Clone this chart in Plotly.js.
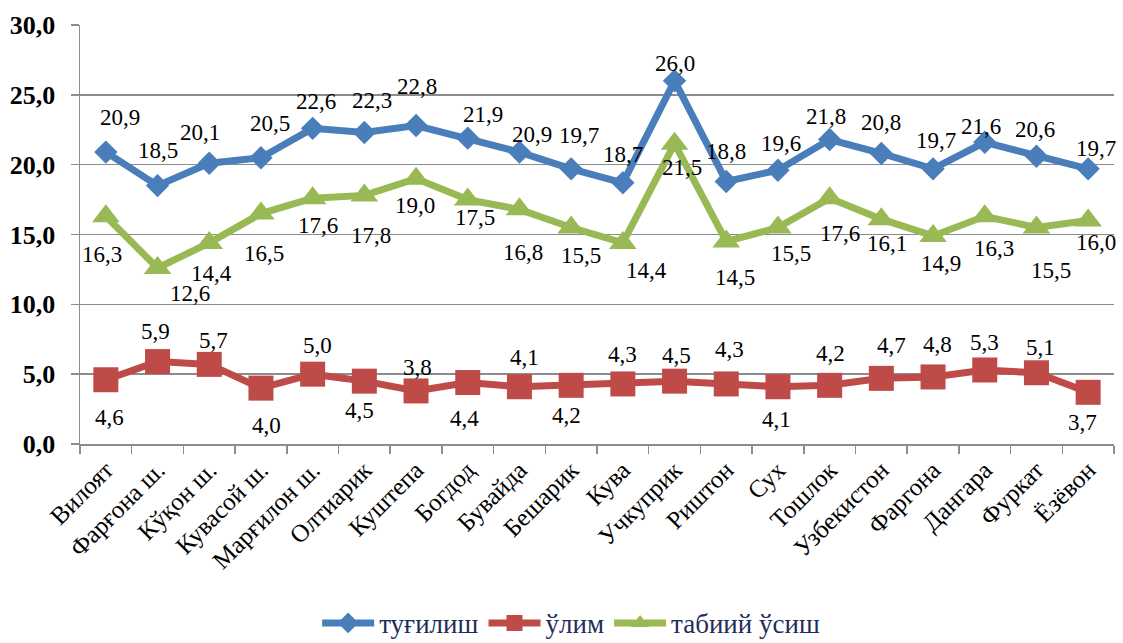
<!DOCTYPE html>
<html>
<head>
<meta charset="utf-8">
<script src="https://cdn.plot.ly/plotly-3.0.1.min.js"></script>
<style>
  html, body { margin: 0; padding: 0; background: #ffffff; }
  #chart { width: 1123px; height: 643px; }
</style>
</head>
<body>
<div id="chart"></div>
<script>
// ---- data ----
const categories = ["Вилоят", "Фарғона ш.", "Кўқон ш.", "Кувасой ш.", "Марғилон ш.", "Олтиарик", "Куштепа", "Богдод", "Бувайда", "Бешарик", "Кува", "Учкуприк", "Риштон", "Сух", "Тошлок", "Узбекистон", "Фаргона", "Дангара", "Фуркат", "Ёзёвон"];
const birth = [20.9, 18.5, 20.1, 20.5, 22.6, 22.3, 22.8, 21.9, 20.9, 19.7, 18.7, 26.0, 18.8, 19.6, 21.8, 20.8, 19.7, 21.6, 20.6, 19.7];
const death = [4.6, 5.9, 5.7, 4.0, 5.0, 4.5, 3.8, 4.4, 4.1, 4.2, 4.3, 4.5, 4.3, 4.1, 4.2, 4.7, 4.8, 5.3, 5.1, 3.7];
const growth = [16.3, 12.6, 14.4, 16.5, 17.6, 17.8, 19.0, 17.5, 16.8, 15.5, 14.4, 21.5, 14.5, 15.5, 17.6, 16.1, 14.9, 16.3, 15.5, 16.0];
const seriesNames = ["туғилиш", "ўлим", "табиий ўсиш"];
const yTicks = [0, 5, 10, 15, 20, 25, 30];

// ---- label offsets (screen px, [dx, dy], dy down) ----
const birthLabelShift = [[14,-35],[0,-35],[-9,-31],[9,-34],[3,-27],[8,-32],[1,-39],[15,-24],[13,-18],[8,-33],[0,-28],[0,-17],[0,-30],[3,-27],[-4,-23],[0,-31],[3,-28],[-4,-16],[-1,-27],[8,-20]];
const deathLabelShift = [[4,38],[-2,-30],[4,-24],[6,37],[5,-29],[-5,29],[1,-23],[-3,36],[5,-29],[-5,30],[0,-29],[2,-26],[3,-34],[-1,33],[1,-32],[10,-33],[4,-32],[0,-27],[4,-25],[-6,30]];
const growthLabelShift = [[-4,38],[32,25],[2,31],[3,40],[5,27],[7,40],[-1,27],[7,18],[4,43],[10,28],[24,28],[7,24],[9,36],[13,26],[10,35],[6,24],[8,28],[9,32],[15,43],[8,22]];

const colors = ["#4A7EBB", "#BE4B48", "#98B954"];
const FONT = "Times New Roman, Liberation Serif, DejaVu Serif";

function fmt(v) { return v.toFixed(1).replace(".", ","); }

const traces = [
  { name: seriesNames[0], x: categories, y: birth, type: "scatter", mode: "lines+markers",
    line: { color: colors[0], width: 7 },
    marker: { symbol: "diamond", size: 18, color: colors[0] }, hoverinfo: "skip" },
  { name: seriesNames[1], x: categories, y: death, type: "scatter", mode: "lines+markers",
    line: { color: colors[1], width: 7 },
    marker: { symbol: "square", size: 25, color: colors[1] }, hoverinfo: "skip" },
  { name: seriesNames[2], x: categories, y: growth, type: "scatter", mode: "lines+markers",
    line: { color: colors[2], width: 7 },
    marker: { symbol: "triangle-up", size: 24, color: colors[2] }, hoverinfo: "skip" }
];

const annotations = [];
function addLabels(values, shifts) {
  values.forEach(function (v, i) {
    annotations.push({
      x: categories[i], y: v, xref: "x", yref: "y",
      text: fmt(v), showarrow: false,
      xshift: shifts[i][0], yshift: -shifts[i][1],
      font: { family: FONT, size: 23, color: "#000000" }
    });
  });
}
addLabels(birth, birthLabelShift);
addLabels(death, deathLabelShift);
addLabels(growth, growthLabelShift);

const layout = {
  width: 1123, height: 643,
  margin: { l: 80, r: 9, t: 25, b: 199, autoexpand: false },
  paper_bgcolor: "#ffffff", plot_bgcolor: "#ffffff",
  separators: ", ",
  font: { family: FONT },
  showlegend: true,
  legend: {
    orientation: "h", x: 0.475, xanchor: "center", y: -0.428, yanchor: "middle",
    font: { family: FONT, size: 27, color: "#1F2D5A" },
    itemwidth: 52, bgcolor: "rgba(0,0,0,0)"
  },
  xaxis: {
    type: "category", range: [-0.5, categories.length - 0.5],
    tickson: "boundaries", ticks: "outside", ticklen: 8, tickcolor: "#8C8C8C", tickwidth: 1.5,
    showline: true, linecolor: "#8C8C8C", linewidth: 1.5,
    showgrid: false, tickangle: -45, automargin: false,
    tickfont: { family: FONT, size: 25, color: "#000000" },
    fixedrange: true
  },
  yaxis: {
    range: [0, 30], tickvals: yTicks, tickformat: ".1f",
    ticks: "outside", ticklen: 8, tickcolor: "#8C8C8C", tickwidth: 1.5,
    showline: true, linecolor: "#8C8C8C", linewidth: 1.5,
    showgrid: true, gridcolor: "#8C8C8C", gridwidth: 1.5,
    zeroline: false, ticklabelstandoff: 10, automargin: false,
    tickfont: { family: FONT, size: 26, color: "#000000", weight: "bold" },
    fixedrange: true
  },
  annotations: annotations
};

Plotly.newPlot("chart", traces, layout, { displayModeBar: false, staticPlot: true });
</script>
</body>
</html>
